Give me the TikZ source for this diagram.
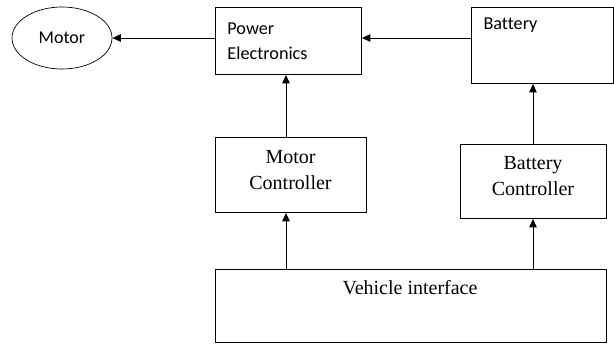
\documentclass[tikz,border=0pt]{standalone}
\usepackage{fontspec}
\setmainfont{Liberation Serif}
\newfontfamily\calib[Ligatures={NoCommon}]{Carlito}
\usetikzlibrary{shapes.geometric,arrows.meta}
\begin{document}
\begin{tikzpicture}[x=1pt,y=-1pt,
  box/.style={draw,line width=0.9pt,anchor=north west,inner sep=0pt},
  sertext/.style={font=\fontsize{20}{26}\selectfont,align=center},
  santext/.style={font=\calib\fontsize{18.2}{25}\selectfont,align=left},
  arr/.style={line width=0.9pt,-{Triangle[length=8.5pt,width=7.5pt]}}]
\useasboundingbox (0,0) rectangle (614,345);
% nodes
\node[draw,line width=0.7pt,ellipse,minimum width=100pt,minimum height=62pt,inner sep=0pt,
      font=\calib\fontsize{18}{21}\selectfont] (motor) at (62,38) {Motor};
\node[box,minimum width=146pt,minimum height=67pt,santext,text width=122pt,inner xsep=12pt] (pe) at (215,7)
  {Power\\Electronics};
\node[box,minimum width=142pt,minimum height=76pt] (bat) at (471,7) {};
\node[santext,anchor=west] (battxt) at (480,25) {Battery};
\node[box,minimum width=151pt,minimum height=75pt] (mc) at (215,137) {};
\node[sertext] (mctxt) at (290.5,170) {Motor\\Controller};
\node[box,minimum width=146pt,minimum height=74pt] (bc) at (460,144) {};
\node[sertext] (bctxt) at (533,176.5) {Battery\\Controller};
\node[box,minimum width=391pt,minimum height=73pt] (vi) at (215,269) {};
\node[sertext] (vitxt) at (410,288) {Vehicle interface};
% guide coordinates
\coordinate (xa) at (286,0);
\coordinate (xb) at (533,0);
% connectors
\draw[arr] (pe.west |- motor.east) -- (motor.east);
\draw[arr] (bat.west |- motor.east) -- (pe.east |- motor.east);
\draw[arr] (xa |- mc.north) -- (xa |- pe.south);
\draw[arr] (xb |- bc.north) -- (xb |- bat.south);
\draw[arr] (xa |- vi.north) -- (xa |- mc.south);
\draw[arr] (xb |- vi.north) -- (xb |- bc.south);
\end{tikzpicture}
\end{document}
